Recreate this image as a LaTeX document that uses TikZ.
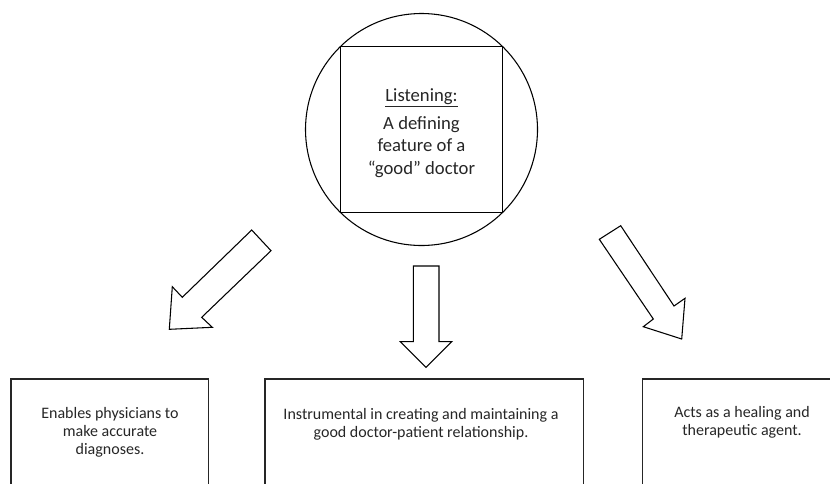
\documentclass[tikz,border=0pt]{standalone}
\usepackage{fontspec}
\setmainfont{Carlito}
\begin{document}
\begin{tikzpicture}[x=0.75pt,y=-0.75pt,line join=miter,
  every node/.style={inner sep=0pt,outer sep=0pt},
  centretext/.style={align=center,font=\fontsize{14pt}{17pt}\selectfont,text=black!85},
  boxtext/.style={align=center,font=\fontsize{12pt}{13.5pt}\selectfont,text=black!85},
  blockarrow/.style={draw,line width=0.8pt,fill=white},
  outcome/.style={draw,line width=1.1pt,black!85}]
\useasboundingbox (0,0) rectangle (830,483);
\clip (0,0) rectangle (830,483);

%%% CENTRE %%%
\node [draw,circle,line width=0.8pt,minimum size=174pt] at (421.5,129.5) (listen_circle) {};
\node [draw,line width=0.8pt,minimum width=121pt,minimum height=125pt] at (421.5,129.5) (listen_square) {};
\node [centretext] at (421.5,133) (listen_text)
  {\underline{Listening:}\\[4pt] A defining\\ feature of a\\ “good” doctor};

%%% ARROWS %%%
\draw [blockarrow] (251.7,230) -- (271,250.7) -- (201.7,317.3) -- (212.3,327.3)
  -- (169.3,329.3) -- (172.3,286.7) -- (182.3,297.3) -- cycle;
\draw [blockarrow] (413.3,266) -- (439,266) -- (439,341.7) -- (451.7,341.7)
  -- (426,367.3) -- (400.3,341.7) -- (413.3,341.7) -- cycle;
\draw [blockarrow] (599.3,239.3) -- (620.7,225.7) -- (674,306) -- (685,298.3)
  -- (681.7,339) -- (643.3,326.7) -- (653.3,319) -- cycle;

%%% OUTCOMES %%%
\draw [outcome] (11,495) -- (11,379) -- (208.3,379) -- (208.3,495);
\draw [outcome] (265,495) -- (265,379) -- (583.3,379) -- (583.3,495);
\draw [outcome] (642.7,495) -- (642.7,379) -- (840,379);

\node [boxtext] at (110,432) (diagnosis) {Enables physicians to\\ make accurate\\ diagnoses.};
\node [boxtext] at (421,424) (relationship) {Instrumental in creating and maintaining a\\ good doctor-patient relationship.};
\node [boxtext] at (742,422.5) (healing) {Acts as a healing and\\ therapeutic agent.};
\end{tikzpicture}
\end{document}
